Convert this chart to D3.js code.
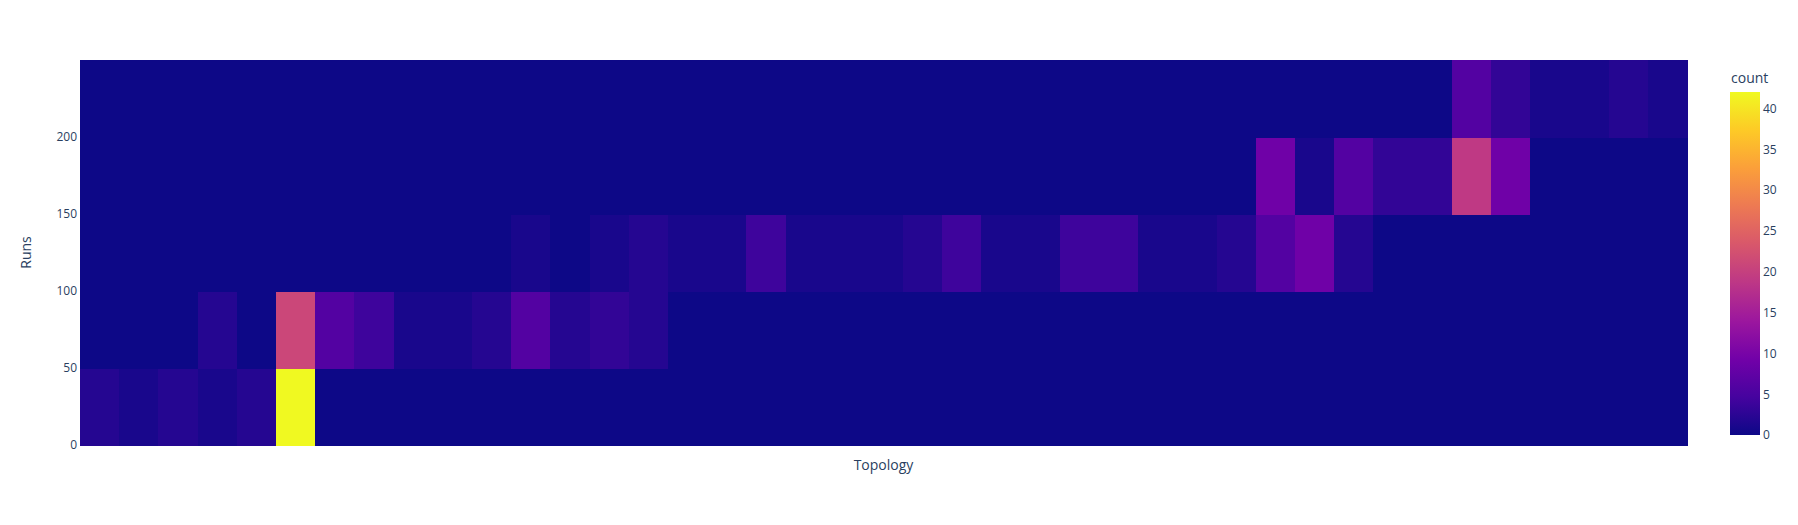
<!DOCTYPE html>
<html>
<head>
<meta charset="utf-8">
<script src="https://cdn.jsdelivr.net/npm/d3@7"></script>
<style>
  html, body { margin: 0; padding: 0; background: #fff; }
  text { font-family: "Open Sans", "Noto Sans", sans-serif; }
</style>
</head>
<body>
<svg id="chart" width="1798" height="525"></svg>
<script>
// ---- data ----
const topologies = d3.range(1, 42).map(i => "T" + i);          // 41 topology categories
const runBinEdges = [0, 50, 100, 150, 200, 250];               // y bins (Runs)
const runsTickValues = [0, 50, 100, 150, 200];
const countTickValues = [0, 5, 10, 15, 20, 25, 30, 35, 40];
// counts per run bin, one value per topology
const counts0to50    = [2,1,2,1,2,42,0,0,0,0,0,0,0,0,0,0,0,0,0,0,0,0,0,0,0,0,0,0,0,0,0,0,0,0,0,0,0,0,0,0,0];
const counts50to100  = [0,0,0,2,0,21,6,4,1,1,2,6,2,3,2,0,0,0,0,0,0,0,0,0,0,0,0,0,0,0,0,0,0,0,0,0,0,0,0,0,0];
const counts100to150 = [0,0,0,0,0,0,0,0,0,0,0,1,0,1,2,1,1,4,1,1,1,2,4,1,1,4,4,1,1,2,6,9,2,0,0,0,0,0,0,0,0];
const counts150to200 = [0,0,0,0,0,0,0,0,0,0,0,0,0,0,0,0,0,0,0,0,0,0,0,0,0,0,0,0,0,0,9,1,6,3,3,19,9,0,0,0,0];
const counts200to250 = [0,0,0,0,0,0,0,0,0,0,0,0,0,0,0,0,0,0,0,0,0,0,0,0,0,0,0,0,0,0,0,0,0,0,0,6,3,1,1,2,1];
const countRows = [counts0to50, counts50to100, counts100to150, counts150to200, counts200to250];
const plasma = ['#0d0887','#46039f','#7201a8','#9c179e','#bd3786','#d8576b','#ed7953','#fb9f3a','#fdca26','#f0f921'];

// ---- layout ----
const svg = d3.select("#chart");
const plot = { left: 80, top: 60, right: 1687, bottom: 445 };
const textColor = "#2a3f5f";

const x = d3.scaleBand().domain(topologies).range([plot.left, plot.right]).padding(0);
const y = d3.scaleLinear().domain([0, 250]).range([plot.bottom, plot.top]);
const maxCount = d3.max(countRows.flat());
const color = d3.scaleLinear()
  .domain(plasma.map((_, i) => i / (plasma.length - 1) * maxCount))
  .range(plasma)
  .interpolate(d3.interpolateRgb);

const cells = [];
countRows.forEach((row, r) => {
  row.forEach((v, c) => cells.push({ topo: topologies[c], lo: runBinEdges[r], hi: runBinEdges[r + 1], v }));
});

svg.append("g").selectAll("rect").data(cells).join("rect")
  .attr("x", d => x(d.topo))
  .attr("width", x.bandwidth() + 0.5)
  .attr("y", d => y(d.hi))
  .attr("height", d => y(d.lo) - y(d.hi) + 0.5)
  .attr("fill", d => color(d.v))
  .attr("shape-rendering", "crispEdges");

// y axis
const yAxis = svg.append("g")
  .attr("transform", `translate(${plot.left},0)`)
  .call(d3.axisLeft(y).tickValues(runsTickValues).tickSize(0).tickPadding(3));
yAxis.select(".domain").remove();
yAxis.selectAll("text").attr("fill", textColor).style("font-size", "12px")
  .style("font-family", '"Open Sans", sans-serif');

// x axis (no tick labels)
const xAxis = svg.append("g")
  .attr("transform", `translate(0,${plot.bottom})`)
  .call(d3.axisBottom(x).tickSize(0).tickFormat(""));
xAxis.select(".domain").remove();

// axis titles
svg.append("text")
  .attr("x", (plot.left + plot.right) / 2).attr("y", 470)
  .attr("text-anchor", "middle").attr("fill", textColor).style("font-size", "14px")
  .text("Topology");
svg.append("text")
  .attr("transform", `translate(31,${(plot.top + plot.bottom) / 2}) rotate(-90)`)
  .attr("text-anchor", "middle").attr("fill", textColor).style("font-size", "14px")
  .text("Runs");

// colorbar
const cb = { x: 1730, w: 30, top: 92, bottom: 435 };
const cbScale = d3.scaleLinear().domain([0, maxCount]).range([cb.bottom, cb.top]);
const defs = svg.append("defs");
const grad = defs.append("linearGradient").attr("id", "cbgrad")
  .attr("x1", "0").attr("y1", "1").attr("x2", "0").attr("y2", "0");
plasma.forEach((c, i) => grad.append("stop").attr("offset", i / (plasma.length - 1)).attr("stop-color", c));
svg.append("rect").attr("x", cb.x).attr("y", cb.top).attr("width", cb.w)
  .attr("height", cb.bottom - cb.top).attr("fill", "url(#cbgrad)");
const cbAxis = svg.append("g")
  .attr("transform", `translate(${cb.x + cb.w},0)`)
  .call(d3.axisRight(cbScale).tickValues(countTickValues).tickSize(0).tickPadding(3));
cbAxis.select(".domain").remove();
cbAxis.selectAll("text").attr("fill", textColor).style("font-size", "12px")
  .style("font-family", '"Open Sans", sans-serif');
svg.append("text")
  .attr("x", cb.x + 1).attr("y", 83)
  .attr("fill", textColor).style("font-size", "14px")
  .text("count");
</script>
</body>
</html>
